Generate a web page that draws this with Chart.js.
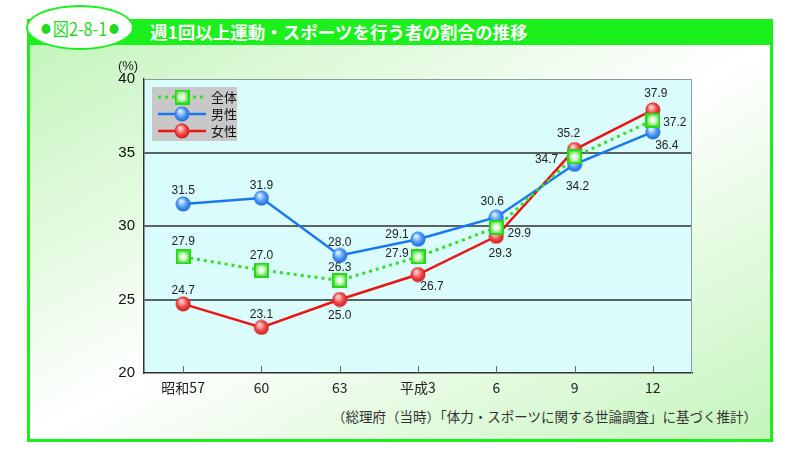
<!DOCTYPE html>
<html>
<head>
<meta charset="utf-8">
<script src="https://cdn.jsdelivr.net/npm/chart.js@4/dist/chart.umd.min.js"></script>
<style>
  html, body { margin: 0; padding: 0; background: #fff; }
  body { width: 788px; height: 463px; position: relative; overflow: hidden; font-family: "Noto Sans CJK JP", sans-serif; }
  #frame { position: absolute; left: 27px; top: 19px; width: 746px; height: 423px; background: #1cf01c; }
  #inner { position: absolute; left: 3px; right: 3px; top: 26px; bottom: 3px;
           background: linear-gradient(to bottom right, #c4f5bc 0%, #ffffff 50%, #c4f5bc 100%); }
  #title { position: absolute; left: 150px; top: 19px; height: 26px; line-height: 26px; color: #fff;
           font-size: 17.5px; font-weight: bold; white-space: nowrap; }
  #badge { position: absolute; left: 26px; top: 5px; width: 104px; height: 41px; border-radius: 50%;
           background: #fff; border: 2px solid #1cf01c; }
  #badge .t { position: absolute; left: 50%; top: 50%; transform: translate(-50%, -50%) scaleX(0.9);
           color: #22d822; font-size: 18px; white-space: nowrap; line-height: 1; }
  #badge .b { font-size: 11px; vertical-align: 3px; margin: 0 2px; }
  #note { position: absolute; right: 31px; top: 406px; font-size: 13.5px; color: #333; white-space: nowrap; }
  #wrap { position: absolute; left: 0; top: 0; width: 788px; height: 463px; }
</style>
</head>
<body>
<div id="frame"><div id="inner"></div></div>
<div id="title">週1回以上運動・スポーツを行う者の割合の推移</div>
<div id="badge"><span class="t"><span class="b">●</span>図2-8-1<span class="b">●</span></span></div>
<div id="note">（総理府（当時）「体力・スポーツに関する世論調査」に基づく推計）</div>
<div id="wrap"><canvas id="chart" width="788" height="463"></canvas></div>
<script>
var categories = ['昭和57', '60', '63', '平成3', '6', '9', '12'];
var allValues = [27.9, 27.0, 26.3, 27.9, 29.9, 34.7, 37.2];
var maleValues = [31.5, 31.9, 28.0, 29.1, 30.6, 34.2, 36.4];
var femaleValues = [24.7, 23.1, 25.0, 26.7, 29.3, 35.2, 37.9];
var seriesNames = ['全体', '男性', '女性'];
var yTicks = [20, 25, 30, 35, 40];

// where each value label sits relative to its point
var allOffsets = [[0, -15], [0, -14], [0, -13], [-21, -3], [23, 6], [-28, 3], [22, 3]];
var maleOffsets = [[0, -13], [0, -12], [0, -13], [-21, -5], [-4, -15], [3, 22], [14, 14]];
var femaleOffsets = [[0, -13], [0, -13], [0, 16], [14, 12], [4, 17], [-6, -16], [3, -16]];

function makeBall(light, mid, dark) {
    var c = document.createElement('canvas');
    c.width = 16; c.height = 16;
    var g = c.getContext('2d');
    var grad = g.createRadialGradient(6, 5, 1, 8, 8, 8);
    grad.addColorStop(0, light);
    grad.addColorStop(0.55, mid);
    grad.addColorStop(1, dark);
    g.fillStyle = grad;
    g.beginPath();
    g.arc(8, 8, 7.5, 0, Math.PI * 2);
    g.fill();
    return c;
}

function makeSquare() {
    var c = document.createElement('canvas');
    c.width = 15; c.height = 15;
    var g = c.getContext('2d');
    g.fillStyle = '#22dd11';
    g.fillRect(0, 0, 15, 15);
    var grad = g.createRadialGradient(7.5, 7.5, 0, 7.5, 7.5, 6);
    grad.addColorStop(0, '#ffffff');
    grad.addColorStop(0.5, '#d4f8cc');
    grad.addColorStop(1, '#70e060');
    g.fillStyle = grad;
    g.fillRect(2, 2, 11, 11);
    return c;
}

var squareImg = makeSquare();
var blueImg = makeBall('#d8ecff', '#4a98f4', '#1c64d0');
var redImg = makeBall('#ffd0d0', '#f04848', '#c81818');

var decor = {
    id: 'decor',
    beforeDraw: function(chart) {
        var a = chart.chartArea, ctx = chart.ctx;
        ctx.save();
        ctx.fillStyle = '#dafcfc';
        ctx.fillRect(a.left, a.top, a.right - a.left, a.bottom - a.top);
        ctx.restore();
    },
    beforeDatasetsDraw: function(chart) {
        var a = chart.chartArea, ctx = chart.ctx, xs = chart.scales.x;
        ctx.save();
        ctx.strokeStyle = '#8a9a9a';
        ctx.lineWidth = 1;
        ctx.beginPath();
        ctx.moveTo(a.left, a.top + 0.5);
        ctx.lineTo(a.right - 0.5, a.top + 0.5);
        ctx.lineTo(a.right - 0.5, a.bottom);
        ctx.stroke();
        ctx.strokeStyle = '#666';
        categories.forEach(function(c, i) {
            var x = Math.round(xs.getPixelForValue(i)) + 0.5;
            ctx.beginPath();
            ctx.moveTo(x, a.bottom);
            ctx.lineTo(x, a.bottom - 7);
            ctx.stroke();
        });
        ctx.fillStyle = '#222';
        ctx.font = '13px "Liberation Sans", Arial, sans-serif';
        ctx.textAlign = 'center';
        ctx.textBaseline = 'middle';
        ctx.fillText('(%)', 128, 66);
        ctx.restore();
    },
    afterDatasetsDraw: function(chart) {
        var ctx = chart.ctx;
        var offsets = [allOffsets, maleOffsets, femaleOffsets];
        ctx.save();
        ctx.font = '12px "Liberation Sans", Arial, sans-serif';
        ctx.fillStyle = '#222';
        ctx.textAlign = 'center';
        ctx.textBaseline = 'middle';
        chart.data.datasets.forEach(function(ds, di) {
            var meta = chart.getDatasetMeta(di);
            meta.data.forEach(function(pt, i) {
                var o = offsets[di][i];
                ctx.fillText(ds.data[i].toFixed(1), pt.x + o[0], pt.y + o[1]);
            });
        });
        // legend box
        var lx = 152, ly = 87;
        ctx.fillStyle = '#c8c8c8';
        ctx.fillRect(lx, ly, 85, 54);
        var imgs = [squareImg, blueImg, redImg];
        chart.data.datasets.forEach(function(ds, di) {
            var y = ly + 10 + di * 17;
            ctx.strokeStyle = ds.borderColor;
            ctx.lineWidth = ds.borderWidth;
            ctx.setLineDash(ds.borderDash || []);
            ctx.beginPath();
            ctx.moveTo(lx + 6, y);
            ctx.lineTo(lx + 54, y);
            ctx.stroke();
            ctx.setLineDash([]);
            var im = imgs[di];
            ctx.drawImage(im, lx + 30 - im.width / 2, y - im.height / 2);
            ctx.fillStyle = '#111';
            ctx.textAlign = 'left';
            ctx.font = '13px "Noto Sans CJK JP", sans-serif';
            ctx.fillText(seriesNames[di], lx + 59, y);
        });
        ctx.restore();
    }
};

new Chart(document.getElementById('chart').getContext('2d'), {
    type: 'line',
    data: {
        labels: categories,
        datasets: [{
            label: seriesNames[0],
            data: allValues,
            borderColor: '#33e022',
            borderWidth: 3,
            borderDash: [3, 4],
            pointStyle: squareImg
        }, {
            label: seriesNames[1],
            data: maleValues,
            borderColor: '#1a78ee',
            borderWidth: 2.5,
            pointStyle: blueImg
        }, {
            label: seriesNames[2],
            data: femaleValues,
            borderColor: '#ee1414',
            borderWidth: 2.5,
            pointStyle: redImg
        }]
    },
    options: {
        responsive: false,
        animation: false,
        layout: { padding: { left: 104, right: 96, top: 79, bottom: 65 } },
        plugins: { legend: { display: false }, tooltip: { enabled: false } },
        elements: { line: { tension: 0, fill: false } },
        scales: {
            x: {
                offset: true,
                grid: { display: false, drawTicks: false },
                border: { display: true, color: '#333', width: 1.5 },
                ticks: { padding: 6, color: '#222', font: { size: 14, family: '"Noto Sans CJK JP", sans-serif' } },
                afterFit: function(s) { s.height = 25; }
            },
            y: {
                min: yTicks[0],
                max: yTicks[yTicks.length - 1],
                afterBuildTicks: function(s) { s.ticks = yTicks.map(function(v) { return { value: v }; }); },
                grid: {
                    drawTicks: false,
                    lineWidth: 2,
                    color: function(c) {
                        var v = c.tick && c.tick.value;
                        return (v > yTicks[0] && v < yTicks[yTicks.length - 1]) ? '#5a6262' : 'rgba(0,0,0,0)';
                    }
                },
                border: { display: true, color: '#333', width: 1.5 },
                ticks: { padding: 9, color: '#111', font: { size: 15, family: '"Liberation Sans", Arial, sans-serif' } },
                afterFit: function(s) { s.width = 40; }
            }
        }
    },
    plugins: [decor]
});
</script>
</body>
</html>
